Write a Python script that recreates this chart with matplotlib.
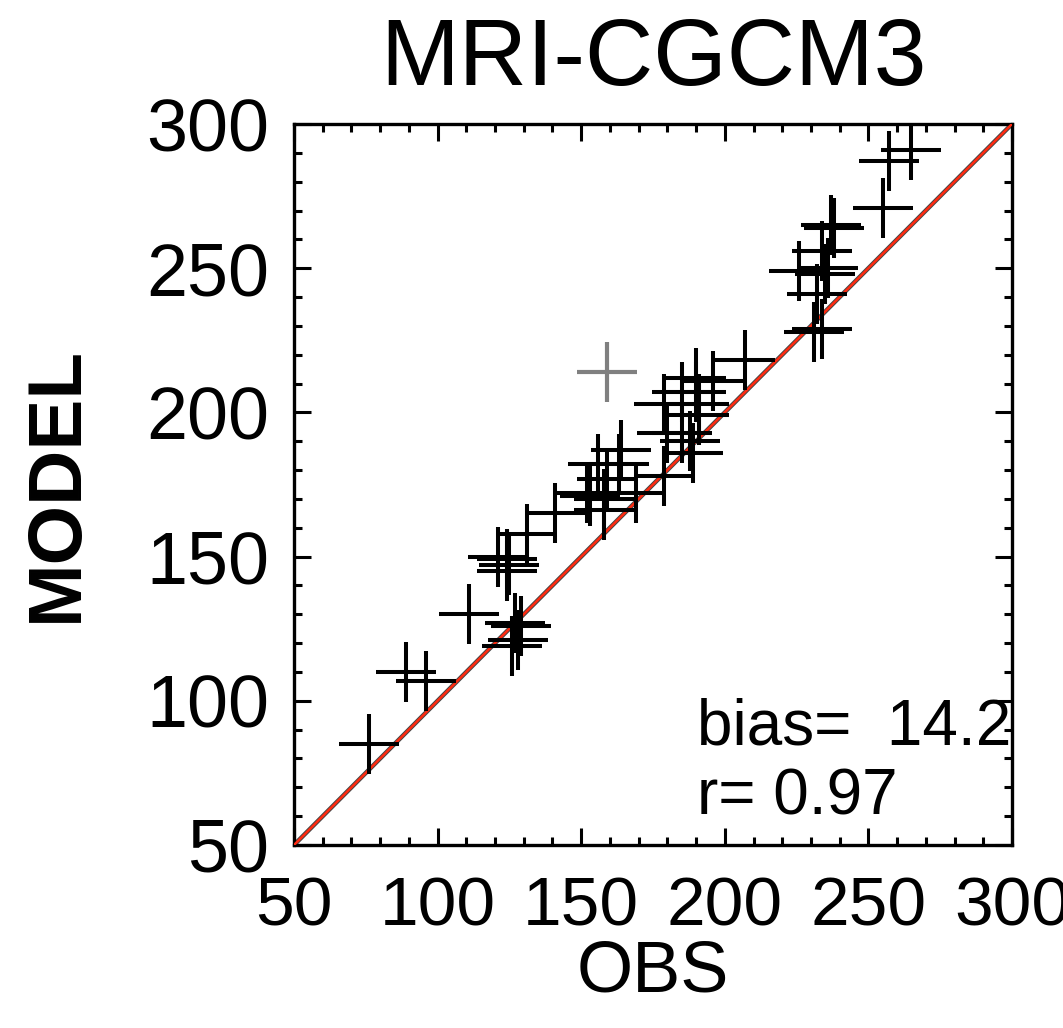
import matplotlib
matplotlib.use("Agg")
import matplotlib.pyplot as plt
from matplotlib.ticker import MultipleLocator
from matplotlib import font_manager

plt.rcParams['font.family'] = ['Liberation Sans', 'DejaVu Sans']

# observed vs model values (black crosses)
obs = [76, 89, 96, 111, 121, 124, 124, 125, 127, 129, 126, 128,
       131, 141, 152, 153, 158, 158, 159, 156, 163, 164, 169, 179,
       180, 179, 185, 185, 188, 189, 190, 190, 191, 191, 196, 207,
       226, 236, 235, 232, 231, 234, 237, 238, 234, 255, 257, 265]
model = [85, 110, 107, 130, 150, 149, 145, 147, 127, 126, 119, 121,
         158, 165, 172, 171, 170, 166, 177, 182, 182, 187, 172, 178,
         193, 203, 207, 193, 190, 186, 212, 207, 203, 199, 211, 218,
         249, 250, 248, 241, 228, 229, 265, 264, 256, 271, 287, 291]
# highlighted (gray) point
obs_gray = [159]
model_gray = [214]

title = "MRI-CGCM3"
xlabel = "OBS"
ylabel = "MODEL"
bias_text = "bias=  14.2"
r_text = "r= 0.97"
ticks = [50, 100, 150, 200, 250, 300]

names = {f.name for f in font_manager.fontManager.ttflist}
if 'Liberation Sans Narrow' in names:
    narrow = ['Liberation Sans Narrow']
    xtick_size, xlab_size = 60, 60
else:
    narrow = ['Liberation Sans']
    xtick_size, xlab_size = 50, 52

fig = plt.figure(figsize=(10.63, 10.28), dpi=100)
ax = fig.add_axes([294/1063, 1-845/1028, 718/1063, 721/1028])

ax.plot([50, 300], [50, 300], color='#444444', lw=3.2, zorder=2)
ax.plot([50, 300], [50, 300], color='#ff2a10', lw=1.8, zorder=3)
ax.plot(obs, model, linestyle='none', marker='+', markersize=43,
        markeredgewidth=2.9, color='black', zorder=4)
ax.plot(obs_gray, model_gray, linestyle='none', marker='+', markersize=43,
        markeredgewidth=3.0, color='#808080', zorder=4)

ax.set_xlim(50, 300)
ax.set_ylim(50, 300)
ax.set_xticks(ticks)
ax.set_yticks(ticks)
ax.xaxis.set_minor_locator(MultipleLocator(10))
ax.yaxis.set_minor_locator(MultipleLocator(10))
ax.tick_params(which='both', direction='in', top=True, right=True, width=2.2)
ax.tick_params(which='major', length=12)
ax.tick_params(which='minor', length=6)
ax.tick_params(axis='y', which='major', labelsize=53, pad=18)
ax.tick_params(axis='x', which='major', labelsize=xtick_size, pad=22)
for lab in ax.get_xticklabels():
    lab.set_family(narrow)
for s in ax.spines.values():
    s.set_linewidth(2.4)

ax.set_title(title, fontsize=68, pad=28)
ax.set_xlabel(xlabel, fontsize=xlab_size, labelpad=0, family=narrow)
ax.set_ylabel(ylabel, fontsize=55, fontweight='bold', labelpad=38)

ax.text(0.561, 0.139, bias_text, transform=ax.transAxes, fontsize=46,
        ha='left', va='baseline', clip_on=False)
ax.text(0.561, 0.042, r_text, transform=ax.transAxes, fontsize=46,
        ha='left', va='baseline', clip_on=False)

fig.savefig("out.png", dpi=100)
